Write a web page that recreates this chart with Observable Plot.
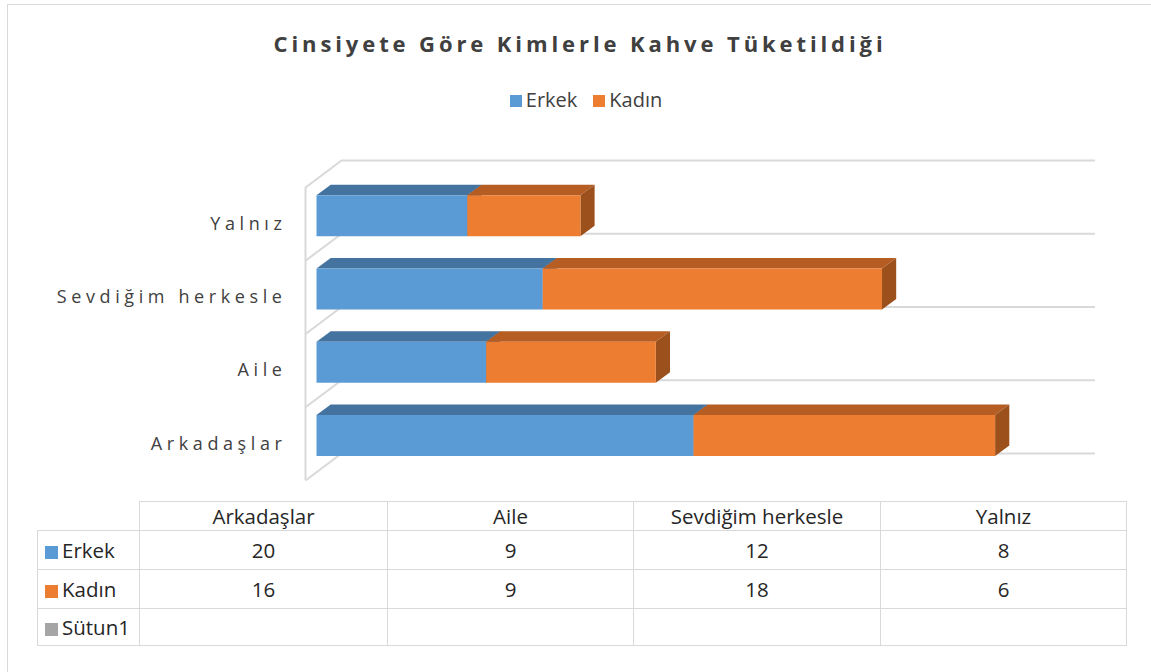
<!DOCTYPE html>
<html>
<head>
<meta charset="utf-8">
<script src="https://cdn.jsdelivr.net/npm/d3@7"></script>
<script src="https://cdn.jsdelivr.net/npm/@observablehq/plot@0.6"></script>
<style>
  html, body { margin: 0; padding: 0; background: #fff; }
  #wrap { position: relative; width: 1151px; height: 672px; overflow: hidden; font-family: "Open Sans", sans-serif; color: #404040; }
  #frame { position: absolute; left: 7px; top: 4px; width: 1200px; height: 720px; border: 1.5px solid #d9d9d9; box-sizing: border-box; }
  #title { position: absolute; left: 0; width: 1160px; top: 28px; text-align: center; font-weight: bold; font-size: 22px; letter-spacing: 3.9px; color: #404040; }
  #legend { position: absolute; left: 0; width: 1172px; top: 86px; text-align: center; font-size: 20px; color: #404040; }
  #legend span.item { margin: 0 8px; }
  #legend i { display: inline-block; width: 12px; height: 12px; margin-right: 4px; vertical-align: 0px; }
  #chart { position: absolute; left: 0; top: 140px; }
  #tbl { position: absolute; left: 37px; top: 501px; border-collapse: collapse; table-layout: fixed; width: 1089px; font-size: 20.5px; color: #262626; }
  #tbl td { border: 1.5px solid #d9d9d9; padding: 0; text-align: center; white-space: nowrap; }
  #tbl td.lab { text-align: left; padding-left: 7px; }
  #tbl td.blank { border-top: none; border-left: none; }
  #tbl i { display: inline-block; width: 13px; height: 13px; margin-right: 4px; vertical-align: -1px; }
</style>
</head>
<body>
<div id="wrap">
  <div id="frame"></div>
  <div id="title"></div>
  <div id="legend"></div>
  <div id="chart"></div>
  <table id="tbl"></table>
</div>
<script>
// ---- data ----
const title = "Cinsiyete Göre Kimlerle Kahve Tüketildiği";
const categories = ["Arkadaşlar", "Aile", "Sevdiğim herkesle", "Yalnız"];
const erkek = [20, 9, 12, 8];
const kadin = [16, 9, 18, 6];
const sutun1 = [null, null, null, null];
const seriesNames = ["Erkek", "Kadın", "Sütun1"];
const seriesColors = ["#5B9BD5", "#ED7D31", "#A5A5A5"];
const topColors = ["#44739F", "#B55D22"];
const sideColors = ["#3A6690", "#9C501C"];

// ---- layout ----
const W = 1151, H = 350;
const mL = 305, mR = 92, mT = 47, mB = 10;
const xMax = 40, nCat = categories.length;
const pxX = (W - mL - mR) / xMax;
const pxY = (H - mT - mB) / nCat;
const depthPx = [36, -27];          // full wall depth in pixels
const ux = depthPx[0] / pxX;         // depth in data units
const uy = -depthPx[1] / pxY;
const d0 = 0.306, d1 = 0.70;         // bar depth span
const pad = 0.22;

function pt(x, y, d) { return {x: x + d * ux, y: y + d * uy}; }

const values = [erkek, kadin];
const faces = {top: [[], []], side: [[], []], front: [[], []]};
categories.forEach((c, i) => {
  let acc = 0;
  values.forEach((arr, s) => {
    const x0 = acc, x1 = acc + arr[i];
    acc = x1;
    const yb = i + pad, yt = i + 1 - pad;
    const k = c + "-" + s;
    [pt(x0, yt, d0), pt(x1, yt, d0), pt(x1, yt, d1), pt(x0, yt, d1)]
      .forEach(p => faces.top[s].push({...p, k}));
    [pt(x1, yb, d0), pt(x1, yt, d0), pt(x1, yt, d1), pt(x1, yb, d1)]
      .forEach(p => faces.side[s].push({...p, k}));
    [pt(x0, yb, d0), pt(x1, yb, d0), pt(x1, yt, d0), pt(x0, yt, d0)]
      .forEach(p => faces.front[s].push({...p, k}));
  });
});

const bounds = d3.range(nCat + 1);
const grid = "#d9d9d9";

const marks = [
  Plot.ruleY(bounds, {x1: 0, x2: xMax, dx: depthPx[0], dy: depthPx[1], stroke: grid, strokeWidth: 2}),
  Plot.ruleX([0], {y1: 0, y2: nCat, stroke: grid, strokeWidth: 2}),
  Plot.link(bounds, {x1: 0, y1: d => d, x2: ux, y2: d => d + uy, stroke: grid, strokeWidth: 2}),
];
[0, 1].forEach(s => {
  marks.push(Plot.line(faces.top[s], {x: "x", y: "y", z: "k", fill: topColors[s], stroke: "none", curve: "linear-closed"}));
  marks.push(Plot.line(faces.side[s], {x: "x", y: "y", z: "k", fill: sideColors[s], stroke: "none", curve: "linear-closed"}));
  marks.push(Plot.line(faces.front[s], {x: "x", y: "y", z: "k", fill: seriesColors[s], stroke: "none", curve: "linear-closed"}));
});
marks.push(Plot.text(categories, {x: 0, y: (d, i) => i + 0.5, text: d => d, textAnchor: "end", dx: -19, fontSize: 18, fill: "#404040"}));

const svg = Plot.plot({
  width: W, height: H,
  marginLeft: mL, marginRight: mR, marginTop: mT, marginBottom: mB,
  style: {fontFamily: "Open Sans", background: "transparent", overflow: "visible"},
  x: {domain: [0, xMax], axis: null},
  y: {domain: [0, nCat], axis: null},
  marks
});
d3.select(svg).selectAll("g[aria-label=text] text").style("letter-spacing", "4.6px");
document.getElementById("chart").appendChild(svg);

// title & legend
document.getElementById("title").textContent = title;
const leg = d3.select("#legend");
seriesNames.slice(0, 2).forEach((n, s) => {
  const it = leg.append("span").attr("class", "item");
  it.append("i").style("background", seriesColors[s]);
  it.append("span").text(n);
});

// data table
const tbl = d3.select("#tbl");
const colW = [102, 248, 246, 247, 246];
const rowH = [28, 39, 39, 37];
const cg = tbl.append("colgroup");
colW.forEach(w => cg.append("col").style("width", w + "px"));
const hdr = tbl.append("tr").style("height", rowH[0] + "px");
hdr.append("td").attr("class", "blank");
categories.forEach(c => hdr.append("td").text(c));
[erkek, kadin, sutun1].forEach((arr, s) => {
  const tr = tbl.append("tr").style("height", rowH[s + 1] + "px");
  const lab = tr.append("td").attr("class", "lab");
  lab.append("i").style("background", seriesColors[s]);
  lab.append("span").text(seriesNames[s]);
  arr.forEach(v => tr.append("td").text(v == null ? "" : v));
});
</script>
</body>
</html>
